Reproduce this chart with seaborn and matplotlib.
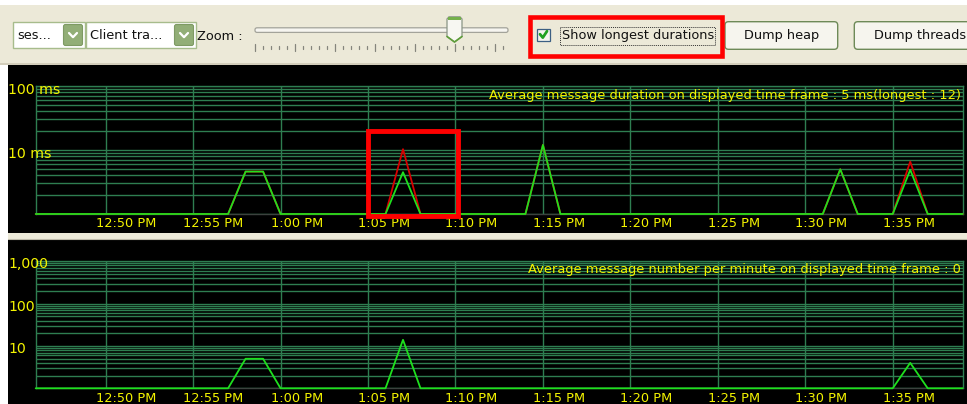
import numpy as np
import pandas as pd
import matplotlib
matplotlib.use("Agg")
import matplotlib.pyplot as plt
from matplotlib.patches import Rectangle, FancyBboxPatch, Polygon
from matplotlib.ticker import LogLocator, NullFormatter
from matplotlib.transforms import ScaledTranslation
import seaborn as sns

sns.set_theme(style="dark")
plt.rcParams["font.family"] = ["DejaVu Sans"]

# ---------------------------------------------------------------- data
# time frame shown, in minutes after 12:00 (12:46 PM .. 1:39 PM)
minute_first, minute_last = 46, 99
tick_minutes = [50, 55, 60, 65, 70, 75, 80, 85, 90, 95]
tick_labels = ["12:50 PM", "12:55 PM", "1:00 PM", "1:05 PM", "1:10 PM",
               "1:15 PM", "1:20 PM", "1:25 PM", "1:30 PM", "1:35 PM"]

# minutes that saw traffic; every other minute of the frame is 0
busy_minutes = [58, 59, 67, 75, 92, 96]
avg_duration_ms = [4.6, 4.6, 4.5, 12, 5.0, 4.9]
longest_duration_ms = [4.6, 4.6, 10.3, 12, 5.0, 6.6]

count_minutes = [58, 59, 67, 96]
messages_per_minute = [5, 5, 14, 4]

duration_ticks = [10, 100]
duration_tick_labels = ["10 ms", "100 ms"]
count_ticks = [10, 100, 1000]
count_tick_labels = ["10", "100", "1,000"]

duration_caption = "Average message duration on displayed time frame : 5 ms(longest : 12)"
count_caption = "Average message number per minute on displayed time frame : 0"

# ---------------------------------------------------------------- look
W, H = 967, 404
BEIGE = "#ECE9D8"
GRID = "#2E7E51"
AXIS_GREY = "#3C423E"
GREEN = "#1EE01E"
RED = "#D80000"
YELLOW = "#F4F400"
HILITE = "#FF0000"

frame = pd.DataFrame({"minute": np.arange(minute_first, minute_last + 1)})


def per_minute(mins, vals):
    s = pd.Series(vals, index=mins, dtype=float)
    return s.reindex(frame["minute"], fill_value=0.0).to_numpy()


frame["avg"] = per_minute(busy_minutes, avg_duration_ms)
frame["longest"] = per_minute(busy_minutes, longest_duration_ms)
frame["count"] = per_minute(count_minutes, messages_per_minute)

fig = plt.figure(figsize=(W / 100, H / 100), dpi=100)
fig.patch.set_facecolor("white")


def frac(left, top, right, bottom):
    return [left / W, 1 - bottom / H, (right - left) / W, (bottom - top) / H]


# background layer in pixel units (y grows downwards)
bg = fig.add_axes([0, 0, 1, 1], zorder=0)
bg.set_xlim(0, W)
bg.set_ylim(H, 0)
bg.axis("off")

bg.add_patch(Rectangle((0, 4.5), W, 60.5, facecolor=BEIGE, edgecolor="none"))
bg.plot([0, W], [63.5, 63.5], color="#D3CEBB", lw=1.4)
bg.add_patch(Rectangle((8, 65), W - 8, 168, facecolor="black", edgecolor="none"))
bg.add_patch(Rectangle((8, 233), W - 8, 7, facecolor=BEIGE, edgecolor="none"))
bg.plot([8, W], [239.2, 239.2], color="#BDB9A8", lw=0.8)
bg.add_patch(Rectangle((8, 240), W - 8, H - 240, facecolor="black", edgecolor="none"))

toolbar_texts = []


def tb_text(x, y, s, **kw):
    t = bg.text(x, y, s, ha=kw.pop("ha", "left"), va="center", color="#111111",
                fontsize=8.5, family=["DejaVu Sans"], **kw)
    toolbar_texts.append(t)
    return t


def combo(x0, x1, btn_x0, label):
    bg.add_patch(Rectangle((x0, 22.3), x1 - x0, 25.4, facecolor="white",
                           edgecolor="#A7BC8C", lw=1.0))
    bg.add_patch(FancyBboxPatch((btn_x0, 24.5), 19, 21,
                                boxstyle="round,pad=0,rounding_size=2",
                                facecolor="#92AE77", edgecolor="#7E9A64", lw=0.8))
    cx, cy = btn_x0 + 9.5, 35
    bg.plot([cx - 4, cx, cx + 4], [cy - 2, cy + 2.2, cy - 2], color="white", lw=1.6,
            solid_capstyle="round")
    tb_text(x0 + 4, 35.5, label)


combo(13.3, 85, 63.5, "ses...")
combo(86, 196, 174.5, "Client tra...")
tb_text(197.3, 36, "Zoom :")

# zoom slider
bg.add_patch(FancyBboxPatch((255, 27.8), 253, 4.6, boxstyle="round,pad=0,rounding_size=2",
                            facecolor="#F6F5F0", edgecolor="#A3A39A", lw=0.9))
for i in range(33):
    x = 255 + i * 8
    if x > 510:
        break
    top, bot = (44, 50.5) if i % 5 == 0 else (45.5, 49)
    bg.plot([x, x], [top, bot], color="#85857D", lw=0.9)
bg.add_patch(Polygon([(447, 19), (449, 16.8), (460, 16.8), (462, 19), (462, 36.5),
                      (454.5, 42), (447, 36.5)], closed=True,
                     facecolor="#F7F7F2", edgecolor="#8A9585", lw=0.9))
bg.add_patch(Rectangle((447.6, 17.2), 13.8, 3.2, facecolor="#74B04A", edgecolor="none"))
bg.plot([447, 454.5, 462], [36.5, 42, 36.5], color="#5E9E38", lw=1.2)

# checkbox
bg.add_patch(Rectangle((537, 28.5), 12.5, 12.5, facecolor="#F4F4EE", edgecolor="#3C5F83", lw=0.9))
bg.plot([540, 542.8, 547], [34.2, 37.6, 31.2], color="#21A121", lw=2.0)
bg.add_patch(Rectangle((559.5, 26.5), 155, 18, facecolor="none", edgecolor="#333333",
                       lw=0.7, linestyle=(0, (1, 1))))
check_label = tb_text(561.7, 35.5, "Show longest durations")


def button(x0, x1, label, label_x=None):
    bg.add_patch(FancyBboxPatch((x0, 21.7), x1 - x0, 27.6,
                                boxstyle="round,pad=0,rounding_size=3.5",
                                facecolor="#F6F5EE", edgecolor="#6E8A58", lw=1.0))
    if label_x is None:
        tb_text((x0 + x1) / 2, 35.5, label, ha="center")
    else:
        tb_text(label_x, 35.5, label)


button(725, 837.7, "Dump heap")
button(854.3, 990, "Dump threads", label_x=874.3)

# ---------------------------------------------------------------- charts
ax1 = fig.add_axes(frac(35.7, 86, 962.7, 214), zorder=1)
ax2 = fig.add_axes(frac(35.7, 261.4, 962.7, 388.3), zorder=1)

caption_texts = []
tick_texts = []


def style_chart(ax, ymax, ticks, labels, caption, cap_y, label_dy):
    ax.set_facecolor("black")
    ax.set_yscale("log")
    ax.set_ylim(1, ymax)
    ax.set_xlim(minute_first, minute_last)
    ax.set_xticks(tick_minutes, tick_labels)
    ax.yaxis.set_major_locator(LogLocator(base=10))
    ax.yaxis.set_minor_locator(LogLocator(base=10, subs=range(2, 10)))
    ax.yaxis.set_major_formatter(NullFormatter())
    ax.yaxis.set_minor_formatter(NullFormatter())
    ax.grid(True, which="both", axis="y", color=GRID, lw=1.0)
    ax.grid(True, which="major", axis="x", color=GRID, lw=1.0)
    ax.set_axisbelow(True)
    ax.tick_params(which="both", length=0)
    ax.tick_params(axis="x", colors=YELLOW, pad=2.5)
    for name, sp in ax.spines.items():
        sp.set_visible(True)
        sp.set_color(AXIS_GREY if name == "bottom" else GRID)
        sp.set_linewidth(1.0)
    shift = ScaledTranslation(-10 / 100, 0, fig.dpi_scale_trans)
    for lbl in ax.get_xticklabels():
        lbl.set_horizontalalignment("left")
        lbl.set_transform(lbl.get_transform() + shift)
        tick_texts.append(lbl)
    lab_tr = ax.get_yaxis_transform() + ScaledTranslation(0, label_dy / 100, fig.dpi_scale_trans)
    for v, s in zip(ticks, labels):
        tick_texts.append(ax.text(-27.7 / 927, v, s, transform=lab_tr, ha="left",
                                  va="center", color=YELLOW, zorder=4))
    cap = ax.text(1 - 1.7 / 927, cap_y, caption, transform=ax.transAxes, ha="right",
                  va="center", color=YELLOW, zorder=4)
    caption_texts.append(cap)
    return cap


cap1 = style_chart(ax1, 100, duration_ticks, duration_tick_labels, duration_caption, 0.924, -4.5)
cap2 = style_chart(ax2, 1000, count_ticks, count_tick_labels, count_caption, 0.938, -3.0)

# zero minutes sit on the floor of the log axis
plot_df = frame.assign(avg=frame["avg"].clip(lower=1),
                       longest=frame["longest"].clip(lower=1),
                       count=frame["count"].clip(lower=1))
sns.lineplot(data=plot_df, x="minute", y="longest", ax=ax1, color=RED, lw=1.3, legend=False)
sns.lineplot(data=plot_df, x="minute", y="avg", ax=ax1, color=GREEN, lw=1.3, legend=False)
sns.lineplot(data=plot_df, x="minute", y="count", ax=ax2, color=GREEN, lw=1.3, legend=False)
for ax in (ax1, ax2):
    ax.set_xlabel("")
    ax.set_ylabel("")
    for ln in ax.lines:
        if ln.get_color() in (RED, GREEN):
            ln.set_clip_on(False)
            ln.set_zorder(3)

# ---------------------------------------------------------------- font sizing
renderer = fig.canvas.get_renderer()
scale = 468 / cap1.get_window_extent(renderer).width
for t in caption_texts:
    t.set_fontsize(t.get_fontsize() * scale)
scale_ticks = 60 / tick_texts[0].get_window_extent(renderer).width
for t in tick_texts:
    t.set_fontsize(t.get_fontsize() * scale_ticks)
    t.set_color(YELLOW)
scale_tb = 151 / check_label.get_window_extent(renderer).width
for t in toolbar_texts:
    t.set_fontsize(t.get_fontsize() * scale_tb)

# ---------------------------------------------------------------- highlight boxes
top = fig.add_axes([0, 0, 1, 1], zorder=5)
top.set_xlim(0, W)
top.set_ylim(H, 0)
top.axis("off")
top.patch.set_alpha(0)
top.add_patch(Rectangle((530, 17.3), 192, 38.2, facecolor="none", edgecolor=HILITE, lw=3.3))
top.add_patch(Rectangle((367.5, 130.5), 90, 85.5, facecolor="none", edgecolor=HILITE, lw=3.5))

fig.savefig("out.png", dpi=100, facecolor=fig.get_facecolor())
